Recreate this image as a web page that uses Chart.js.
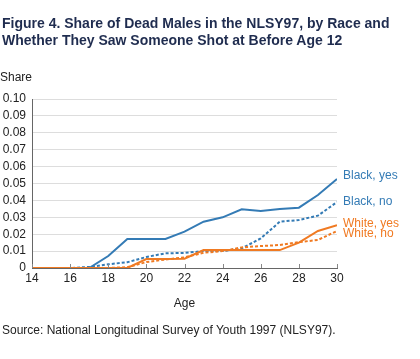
<!DOCTYPE html>
<html lang="en">
<head>
    <meta charset="UTF-8">
    <title>Figure 4. Share of Dead Males in the NLSY97</title>
    <style>
        body {
            margin: 0;
            background: #fff;
            font-family: "Liberation Sans", Arial, sans-serif;
        }
        .wrap {
            position: relative;
            width: 420px;
            height: 359px;
        }
        .title {
            position: absolute;
            left: 2px;
            top: 14.5px;
            font-size: 14px;
            line-height: 17.5px;
            font-weight: bold;
            color: #1f2c4f;
        }
        .share {
            position: absolute;
            left: 0;
            top: 70px;
            font-size: 12px;
            line-height: 14px;
            color: #222;
        }
        .source {
            position: absolute;
            left: 2px;
            top: 323px;
            font-size: 12px;
            line-height: 14px;
            color: #222;
        }
        canvas {
            position: absolute;
            left: 0;
            top: 0;
        }
    </style>
    <script src="https://cdn.jsdelivr.net/npm/chart.js"></script>
</head>
<body>
<div class="wrap">
    <canvas id="deadChart" width="420" height="359"></canvas>
    <div class="title">Figure 4. Share of Dead Males in the NLSY97, by Race and<br>Whether They Saw Someone Shot at Before Age 12</div>
    <div class="share">Share</div>
    <div class="source">Source: National Longitudinal Survey of Youth 1997 (NLSY97).</div>
</div>

<script>
    // ages on the x axis
    const ages = [14, 15, 16, 17, 18, 19, 20, 21, 22, 23, 24, 25, 26, 27, 28, 29, 30];

    // share dead
    const blackYes = [0, 0, 0, 0, 0.0071, 0.0172, 0.0172, 0.0172, 0.0215, 0.0274, 0.0300, 0.0347, 0.0337, 0.0349, 0.0357, 0.0432, 0.0527];
    const blackNo  = [0, 0, 0, 0.0006, 0.0022, 0.0034, 0.0065, 0.0087, 0.0089, 0.0100, 0.0100, 0.0116, 0.0175, 0.0274, 0.0284, 0.0310, 0.0390];
    const whiteYes = [0, 0, 0, 0, 0, 0, 0.0053, 0.0053, 0.0055, 0.0106, 0.0106, 0.0106, 0.0106, 0.0106, 0.0150, 0.0219, 0.0253];
    const whiteNo  = [0, 0, 0, 0, 0, 0.0005, 0.0035, 0.0050, 0.0063, 0.0090, 0.0100, 0.0122, 0.0130, 0.0136, 0.0153, 0.0166, 0.0219];

    const seriesNames = ['Black, yes', 'Black, no', 'White, yes', 'White, no'];
    const xTicks = [14, 16, 18, 20, 22, 24, 26, 28, 30];
    const yTicks = [0, 0.01, 0.02, 0.03, 0.04, 0.05, 0.06, 0.07, 0.08, 0.09, 0.10];

    const BLUE = '#347bb5';
    const ORANGE = '#f07a22';
    const FONT = '"Liberation Sans", Arial, sans-serif';

    const toPoints = vals => vals.map((v, i) => ({ x: ages[i], y: v }));

    // label offsets from the end of each line (px)
    const labelStyle = [
        { color: BLUE, dy: 0.5 },
        { color: BLUE, dy: 2.5 },
        { color: ORANGE, dy: 2 },
        { color: ORANGE, dy: 6.5 }
    ];

    // small ticks pointing up into the plot + series labels at the right
    const extrasPlugin = {
        id: 'extras',
        afterDatasetsDraw(chart) {
            const ctx = chart.ctx;
            const xs = chart.scales.x;
            const ys = chart.scales.y;
            const base = ys.getPixelForValue(0);
            ctx.save();
            ctx.strokeStyle = '#888';
            ctx.lineWidth = 1;
            xTicks.forEach(t => {
                const px = Math.round(xs.getPixelForValue(t)) + 0.5;
                ctx.beginPath();
                ctx.moveTo(px, base);
                ctx.lineTo(px, base - 4);
                ctx.stroke();
            });
            ctx.font = '12px ' + FONT;
            ctx.textBaseline = 'alphabetic';
            ctx.textAlign = 'left';
            chart.data.datasets.forEach((ds, i) => {
                const last = ds.data[ds.data.length - 1];
                const px = xs.getPixelForValue(last.x);
                const py = ys.getPixelForValue(last.y);
                ctx.fillStyle = labelStyle[i].color;
                ctx.fillText(ds.label, px + 6, py + labelStyle[i].dy);
            });
            ctx.restore();
        }
    };

    const ctx = document.getElementById('deadChart').getContext('2d');
    new Chart(ctx, {
        type: 'line',
        data: {
            datasets: [
                { label: seriesNames[0], data: toPoints(blackYes), borderColor: BLUE, borderWidth: 2, order: 3 },
                { label: seriesNames[1], data: toPoints(blackNo), borderColor: BLUE, borderWidth: 2, borderDash: [3, 2], order: 4 },
                { label: seriesNames[2], data: toPoints(whiteYes), borderColor: ORANGE, borderWidth: 2, order: 1 },
                { label: seriesNames[3], data: toPoints(whiteNo), borderColor: ORANGE, borderWidth: 2, borderDash: [3, 2], order: 2 }
            ]
        },
        options: {
            responsive: false,
            animation: false,
            devicePixelRatio: 1,
            elements: {
                point: { radius: 0 },
                line: { tension: 0, borderCapStyle: 'butt' }
            },
            layout: {
                padding: { left: 0, right: 83, top: 99, bottom: 44 }
            },
            plugins: {
                legend: { display: false },
                tooltip: { enabled: false }
            },
            scales: {
                x: {
                    type: 'linear',
                    min: 14,
                    max: 30,
                    afterFit: s => { s.height = 47; },
                    afterBuildTicks: s => { s.ticks = xTicks.map(v => ({ value: v })); },
                    grid: { display: false, drawTicks: false },
                    border: { display: true, color: '#666', width: 1 },
                    ticks: {
                        color: '#222',
                        padding: 3,
                        maxRotation: 0,
                        autoSkip: false,
                        font: { family: FONT, size: 12 }
                    },
                    title: {
                        display: true,
                        text: 'Age',
                        color: '#222',
                        padding: { top: 4, bottom: 4 },
                        font: { family: FONT, size: 12 }
                    }
                },
                y: {
                    min: 0,
                    max: 0.1,
                    afterFit: s => { s.width = 32; },
                    afterBuildTicks: s => { s.ticks = yTicks.map(v => ({ value: v })); },
                    grid: { color: '#dddddd', drawTicks: false },
                    border: { display: true, color: '#666', width: 1 },
                    ticks: {
                        color: '#222',
                        padding: 6,
                        autoSkip: false,
                        font: { family: FONT, size: 12 },
                        callback: v => (v === 0 ? '0' : v.toFixed(2))
                    }
                }
            }
        },
        plugins: [extrasPlugin]
    });
</script>
</body>
</html>
